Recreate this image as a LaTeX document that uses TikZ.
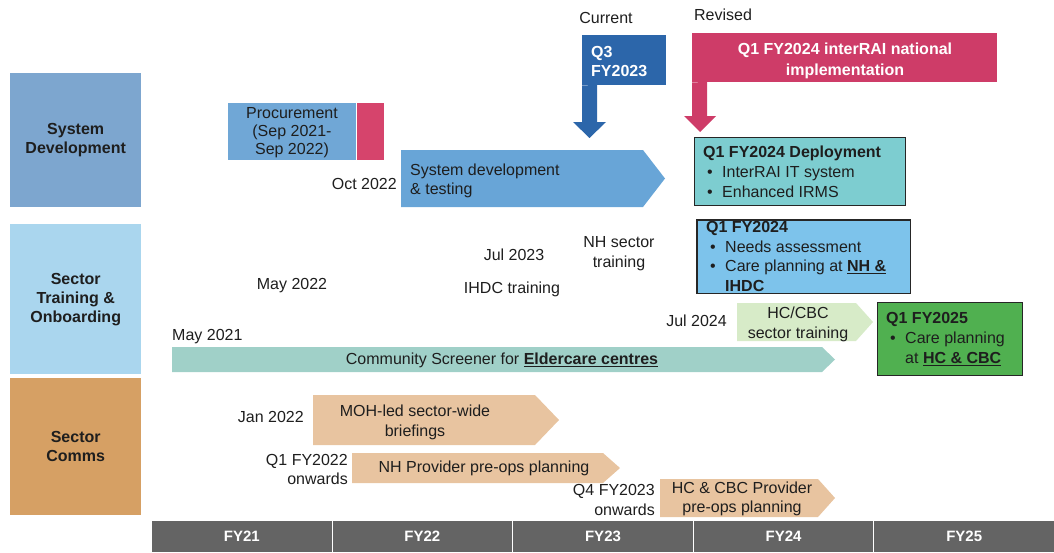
\documentclass[tikz,border=0pt]{standalone}
\usepackage{fontspec}
\setmainfont{Liberation Sans}
\definecolor{ink}{RGB}{30,30,30}
\definecolor{sdcat}{RGB}{125,166,207}
\definecolor{stcat}{RGB}{170,214,238}
\definecolor{sccat}{RGB}{214,160,100}
\definecolor{procblue}{RGB}{112,167,214}
\definecolor{procred}{RGB}{214,68,108}
\definecolor{devblue}{RGB}{104,165,215}
\definecolor{qblue}{RGB}{44,102,170}
\definecolor{revred}{RGB}{206,60,104}
\definecolor{deploy}{RGB}{125,205,208}
\definecolor{qsky}{RGB}{125,195,235}
\definecolor{hcgreen}{RGB}{215,235,200}
\definecolor{qgreen}{RGB}{80,176,80}
\definecolor{screener}{RGB}{160,208,200}
\definecolor{tan}{RGB}{232,196,160}
\definecolor{tline}{RGB}{100,100,100}
\newcommand{\bul}{\makebox[19pt][l]{\hspace{4pt}\textbullet}}
\newcommand{\bulgap}{\hspace*{19pt}}
\begin{document}
\begin{tikzpicture}[x=1pt,y=-1pt,
  txt/.style={font=\fontsize{16}{19}\selectfont, text=ink, inner sep=0pt},
  wtxt/.style={font=\fontsize{16}{19}\selectfont\bfseries, text=white, inner sep=0pt},
  catbox/.style={inner sep=0pt, anchor=north west, minimum width=131pt, align=center,
    font=\fontsize{16}{19}\selectfont\bfseries, text=ink},
  fybox/.style={inner sep=0pt, anchor=north west, minimum width=180.6pt, minimum height=32pt,
    fill=tline, draw=white, line width=1pt, font=\fontsize{15}{18}\selectfont\bfseries, text=white},
  plain/.style={inner sep=0pt, anchor=north west},
  framed/.style={inner sep=0pt, anchor=north west, draw=black!85, line width=1.3pt}
]
\useasboundingbox (0,0) rectangle (1054,552);

% category boxes
\node[catbox, fill=sdcat, minimum height=134pt] (sd) at (10,73) {System\\Development};
\node[catbox, fill=stcat, minimum height=150pt] (st) at (10,224) {Sector\\Training \&\\Onboarding};
\node[catbox, fill=sccat, minimum height=137pt] (sc) at (10,378) {Sector\\Comms};

% timeline
\node[fybox] (fy21) at (151,520) {FY21};
\node[fybox] (fy22) at (331.6,520) {FY22};
\node[fybox] (fy23) at (512.2,520) {FY23};
\node[fybox] (fy24) at (692.8,520) {FY24};
\node[fybox] (fy25) at (873.4,520) {FY25};

% procurement
\node[plain, fill=procblue, minimum width=128pt, minimum height=57pt] (proc) at (228,103) {};
\node[plain, fill=procred, minimum width=27pt, minimum height=57pt] (procr) at (proc.north east) {};
\node[txt, anchor=north, align=center, font=\fontsize{16}{18}\selectfont] (proctxt) at (292,107) {Procurement\\(Sep 2021-\\Sep 2022)};

% system development arrow
\fill[devblue] (401,150) -- (643,150) -- (665,178.5) -- (643,207) -- (401,207) -- cycle;
\node[txt, anchor=north west, align=left] (devtxt) at (410,164) {System development\\\& testing};
\node[txt, anchor=east] (oct) at (397,184) {Oct 2022};

% current marker
\node[txt] (cur) at (606,18) {Current};
\node[plain, fill=qblue, minimum width=84pt, minimum height=50pt] (q3) at (582,35) {};
\node[wtxt, anchor=north west, align=left] (q3txt) at (591,46) {Q3\\FY2023};
\fill[qblue] (q3.south west) -- (597,85) -- (597,122) -- (606,122) -- (589.5,138) -- (573,122) -- (582,122) -- cycle;

% revised marker
\node[txt] (rev) at (723,15) {Revised};
\node[plain, fill=revred, minimum width=305pt, minimum height=49pt] (q1r) at (692,33) {};
\node[wtxt, anchor=north, align=center, font=\fontsize{16}{21}\selectfont\bfseries] (q1rtxt) at (845,43) {Q1 FY2024 interRAI national\\implementation};
\fill[revred] (q1r.south west) -- (707,82) -- (707,116) -- (716,116) -- (700,132) -- (684,116) -- (692,116) -- cycle;

% deployment box
\node[framed, fill=deploy, minimum width=211pt, minimum height=68pt] (dep) at (694,137) {};
\node[txt, anchor=north west, align=left, font=\fontsize{16}{20}\selectfont] (deptxt) at (703,146)
  {\textbf{Q1 FY2024 Deployment}\\\bul InterRAI IT system\\\bul Enhanced IRMS};

% Q1 FY2024 training box
\node[plain, fill=qsky, minimum width=213pt, minimum height=73pt] (nh) at (697,220) {};
\node[txt, anchor=north west, align=left, font=\fontsize{16}{19.5}\selectfont] (nhtxt) at (706,221.5)
  {\textbf{Q1 FY2024}\\\bul Needs assessment\\\bul Care planning at \underline{\textbf{NH \&}}\\\bulgap\underline{\textbf{IHDC}}};
\draw[black!85, line width=1.3pt] (nh.north west) rectangle (nh.south east);

% HC/CBC arrow
\fill[hcgreen] (737,303) -- (856,303) -- (873,322) -- (856,341) -- (737,341) -- cycle;
\node[txt, anchor=north, align=center, font=\fontsize{16}{20}\selectfont] (hctxt) at (798,307) {HC/CBC\\sector training};
\node[txt, anchor=east] (jul24) at (727,321) {Jul 2024};

% Q1 FY2025 box
\node[framed, fill=qgreen, minimum width=145pt, minimum height=73pt] (q25) at (877,302) {};
\node[txt, anchor=north west, align=left, font=\fontsize{16}{20}\selectfont] (q25txt) at (886,312)
  {\textbf{Q1 FY2025}\\\bul Care planning\\\bulgap at \underline{\textbf{HC \& CBC}}};

% community screener
\fill[screener] (172,347) -- (822,347) -- (835,359.5) -- (822,372) -- (172,372) -- cycle;
\node[txt] (scrtxt) at (502,360) {Community Screener for \underline{\textbf{Eldercare centres}}};
\node[txt, anchor=west] (may21) at (172,337) {May 2021};

% training labels
\node[txt] (may22) at (292,286) {May 2022};
\node[txt] (jul23) at (514,255) {Jul 2023};
\node[txt] (ihdc) at (512,289) {IHDC training};
\node[txt, anchor=north, align=center, font=\fontsize{16}{20}\selectfont] (nhst) at (619,236) {NH sector\\training};

% sector comms arrows
\fill[tan] (313,395) -- (535,395) -- (559,420) -- (535,445) -- (313,445) -- cycle;
\node[txt, anchor=north, align=center, font=\fontsize{16}{20}\selectfont] (mohtxt) at (415,405) {MOH-led sector-wide\\briefings};
\node[txt, anchor=east] (jan22) at (304,417) {Jan 2022};

\fill[tan] (352,453) -- (603,453) -- (620,468) -- (603,483) -- (352,483) -- cycle;
\node[txt] (nhptxt) at (484,468) {NH Provider pre-ops planning};
\node[txt, anchor=north east, align=right] (q1fy22) at (348,454) {Q1 FY2022\\onwards};

\fill[tan] (660,479) -- (818,479) -- (835,498) -- (818,517) -- (660,517) -- cycle;
\node[txt, anchor=north, align=center] (hcptxt) at (742,482) {HC \& CBC Provider\\pre-ops planning};
\node[txt, anchor=north east, align=right, font=\fontsize{16}{20}\selectfont] (q4fy23) at (655,484) {Q4 FY2023\\onwards};
\end{tikzpicture}
\end{document}
